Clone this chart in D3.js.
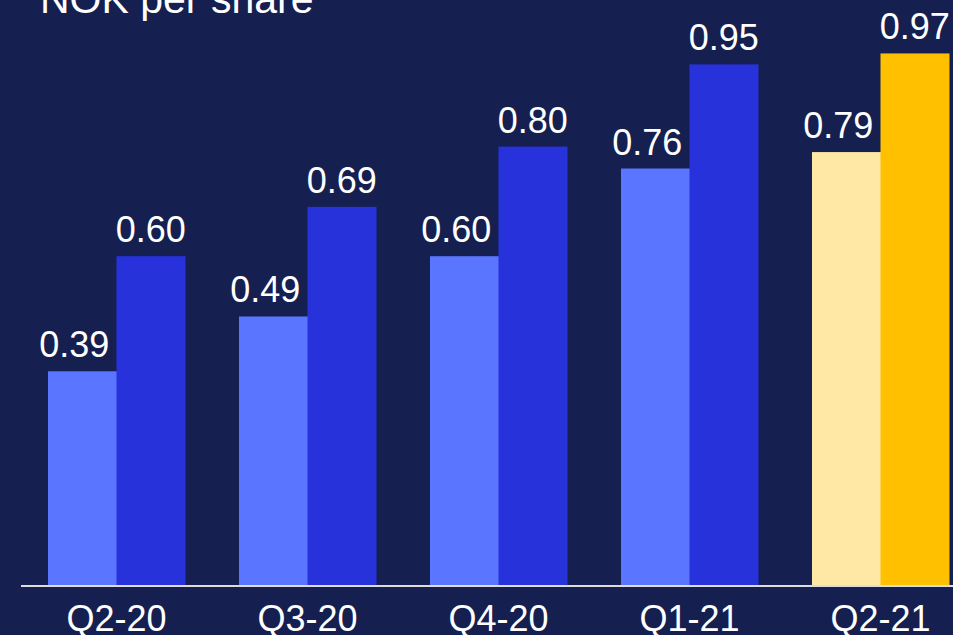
<!DOCTYPE html>
<html>
<head>
<meta charset="utf-8">
<script src="https://cdn.jsdelivr.net/npm/d3@7"></script>
<style>
  body { margin: 0; background: #151f50; }
  svg { display: block; }
  text { font-family: "Liberation Sans", Arial, sans-serif; fill: #ffffff; }
</style>
</head>
<body>
<svg id="chart" width="953" height="635"></svg>
<script>
// quarters on the x axis
const quarters = ["Q2-20", "Q3-20", "Q4-20", "Q1-21", "Q2-21"];
// first (lighter) bar of each pair
const lightValues = [0.39, 0.49, 0.60, 0.76, 0.79];
// second (darker) bar of each pair
const darkValues = [0.60, 0.69, 0.80, 0.95, 0.97];

const W = 953, H = 635;
const svg = d3.select("#chart");

svg.append("rect").attr("width", W).attr("height", H).attr("fill", "#151f50");

// band per quarter, then split into two bars
const x = d3.scaleBand()
    .domain(quarters)
    .range([21, 976])
    .paddingInner(54 / 191)
    .paddingOuter(27 / 191);

const sub = d3.scaleBand()
    .domain(["light", "dark"])
    .range([0, x.bandwidth()]);

const y = d3.scaleLinear()
    .domain([0, 1])
    .range([585, 37]);

const colors = (q, k) => {
    if (q === "Q2-21") return k === "light" ? "#ffe7a5" : "#ffc000";
    return k === "light" ? "#5a75ff" : "#2832db";
};

const rows = quarters.map((q, i) => ({
    q: q,
    bars: [{ k: "light", v: lightValues[i], q: q }, { k: "dark", v: darkValues[i], q: q }]
}));

const groups = svg.selectAll("g.grp")
    .data(rows)
    .enter().append("g")
    .attr("class", "grp")
    .attr("transform", d => "translate(" + x(d.q) + ",0)");

groups.selectAll("rect")
    .data(d => d.bars)
    .enter().append("rect")
    .attr("x", d => sub(d.k))
    .attr("width", sub.bandwidth() + 0.5)
    .attr("y", d => y(d.v))
    .attr("height", d => y(0) - y(d.v))
    .attr("fill", d => colors(d.q, d.k));

// value labels
groups.selectAll("text.val")
    .data(d => d.bars)
    .enter().append("text")
    .attr("class", "val")
    .attr("x", d => sub(d.k) + sub.bandwidth() / 2 + (d.k === "light" ? -8 : 0))
    .attr("y", d => y(d.v) - 14)
    .attr("text-anchor", "middle")
    .style("font-size", "36px")
    .text(d => d.v.toFixed(2));

// baseline
svg.append("line")
    .attr("x1", 21).attr("x2", W)
    .attr("y1", 586).attr("y2", 586)
    .attr("stroke", "#dcdcdc")
    .attr("stroke-width", 2);

// quarter labels
const xAxis = d3.axisBottom(x).tickSize(0).tickPadding(0);
const ax = svg.append("g")
    .attr("transform", "translate(0,586)")
    .call(xAxis);
ax.select(".domain").remove();
ax.selectAll("text")
    .attr("y", 45)
    .attr("dy", null)
    .attr("fill", "#ffffff")
    .style("font-family", "'Liberation Sans', Arial, sans-serif")
    .style("font-size", "36px");

// title, cut off at the top as in the slide
svg.append("text")
    .attr("x", 40)
    .attr("y", 13)
    .style("font-size", "41px")
    .text("NOK per share");
</script>
</body>
</html>
